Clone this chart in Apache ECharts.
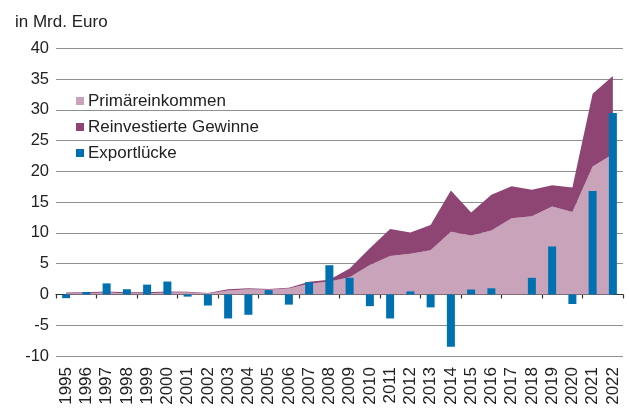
<!DOCTYPE html>
<html>
<head>
<meta charset="utf-8">
<script src="https://cdn.jsdelivr.net/npm/echarts@6/dist/echarts.min.js"></script>
<style>
html,body{margin:0;padding:0;background:#fff;}
#c{width:629px;height:408px;}
</style>
</head>
<body>
<div id="c"></div>
<script>
var years = ['1995','1996','1997','1998','1999','2000','2001','2002','2003','2004','2005','2006','2007','2008','2009','2010','2011','2012','2013','2014','2015','2016','2017','2018','2019','2020','2021','2022'];
var primaereinkommen = [0.15,0.2,0.3,0.2,0.2,0.3,0.3,0.15,0.65,0.85,0.75,0.95,1.75,2.1,2.8,4.8,6.25,6.6,7.2,10.2,9.6,10.4,12.4,12.7,14.3,13.4,20.8,22.8];
var reinvestierteGewinne = [0.15,0.15,0.2,0.15,0.15,0.2,0.15,0.1,0.2,0.15,0.15,0.15,0.3,0.3,1.4,2.7,4.4,3.45,4.1,6.7,3.7,5.8,5.2,4.3,3.45,4.0,11.8,12.7];
var exportluecke = [-0.6,0.4,1.8,0.85,1.6,2.1,-0.35,-1.8,-3.9,-3.3,0.7,-1.65,2.0,4.75,2.7,-1.9,-3.9,0.5,-2.1,-8.5,0.8,1.0,0,2.7,7.8,-1.55,16.8,29.5];
var yTicks = {min:-10, max:40, interval:5};
var unitLabel = 'in Mrd. Euro';

var FONT = '"Liberation Sans", Arial, Helvetica, sans-serif';
var chart = echarts.init(document.getElementById('c'), null, {renderer:'canvas'});
chart.setOption({
  animation:false,
  backgroundColor:'#ffffff',
  textStyle:{fontFamily:FONT},
  title:{text:unitLabel, left:10, top:9, textStyle:{fontFamily:FONT, fontSize:17, fontWeight:'normal', color:'#222'}},
  legend:{
    orient:'vertical', left:71, top:87, itemWidth:8, itemHeight:8, itemGap:8, icon:'rect',
    textStyle:{fontFamily:FONT, fontSize:17, color:'#222', lineHeight:18, padding:[0,0,0,-1]},
    data:['Primäreinkommen','Reinvestierte Gewinne','Exportlücke']
  },
  grid:{left:56, right:6, top:48.3, bottom:52, containLabel:false},
  xAxis:[{
    type:'category', data:years, position:'bottom', boundaryGap:true,
    axisLine:{show:false, onZero:false}, axisTick:{show:false},
    axisLabel:{rotate:90, margin:11, fontSize:17, color:'#222', fontFamily:FONT, interval:0}
  },{
    type:'category', data:years, position:'top', boundaryGap:true,
    axisLine:{show:true, onZero:true, lineStyle:{color:'#333', width:1.2}},
    axisTick:{show:true, inside:true, length:4, lineStyle:{color:'#333', width:1.2}},
    axisLabel:{show:false}
  }],
  yAxis:{
    type:'value', min:yTicks.min, max:yTicks.max, interval:yTicks.interval,
    axisLine:{show:false}, axisTick:{show:false},
    axisLabel:{margin:7, fontSize:16.5, color:'#222', fontFamily:FONT, padding:[0,0,6,0]},
    splitLine:{lineStyle:{color:'#8f8f8f', width:1.2}}
  },
  series:[{
    name:'Primäreinkommen', type:'line', stack:'a', data:primaereinkommen,
    symbol:'none', lineStyle:{width:0}, color:'#C8A3BA', areaStyle:{color:'#C8A3BA', opacity:1}, z:1
  },{
    name:'Reinvestierte Gewinne', type:'line', stack:'a', data:reinvestierteGewinne,
    symbol:'none', lineStyle:{width:0}, color:'#8E4574', areaStyle:{color:'#8E4574', opacity:1}, z:1
  },{
    name:'Exportlücke', type:'bar', data:exportluecke, barWidth:8,
    color:'#0071B0', itemStyle:{color:'#0071B0'}, z:3
  }]
});
</script>
</body>
</html>
